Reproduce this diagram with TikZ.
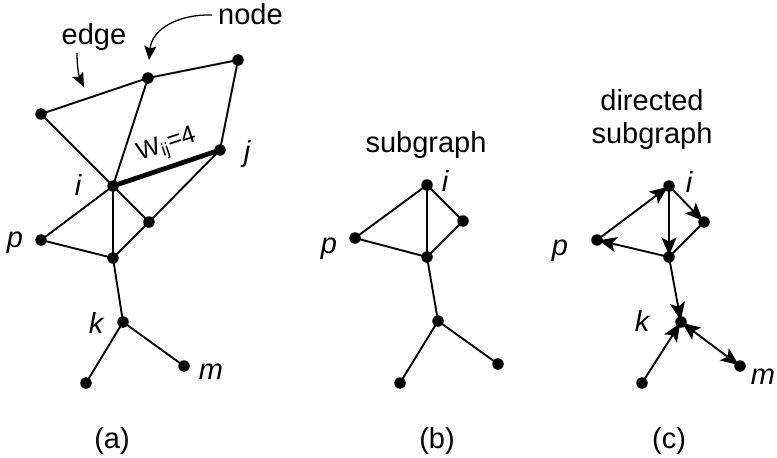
\documentclass[tikz,border=0pt]{standalone}
\usepackage{fontspec}
\setmainfont{Liberation Sans}
\usetikzlibrary{arrows.meta}
\tikzset{
  dot/.style={circle,fill=black,inner sep=0pt,minimum size=11.5pt},
  edgeline/.style={line width=1.9pt},
  thickedge/.style={line width=4.8pt},
  diredge/.style={line width=1.9pt,shorten >=1.5pt,-{Stealth[length=18pt,width=15pt,inset=4pt]}},
  bothedge/.style={line width=1.9pt,shorten >=1.5pt,shorten <=1.5pt,{Stealth[length=18pt,width=15pt,inset=4pt]}-{Stealth[length=18pt,width=15pt,inset=4pt]}},
  callout/.style={line width=1.3pt,-{Stealth[length=14pt,width=12pt,inset=2.5pt]}},
  txt/.style={font=\fontsize{29}{33}\selectfont,inner sep=0pt,anchor=base},
  lbl/.style={font=\fontsize{29}{33}\selectfont\itshape,inner sep=0pt,anchor=base},
}
\begin{document}
\begin{tikzpicture}[x=1pt,y=-1pt]
\useasboundingbox (0,0) rectangle (777,458);
% ---------- (a) ----------
\node[dot] (n1) at (148,78) {};
\node[dot] (n2) at (238,60) {};
\node[dot] (n3) at (41,114) {};
\node[dot] (aj) at (220,150) {};
\node[dot] (ai) at (113,186) {};
\node[dot] (n4) at (149,222) {};
\node[dot] (ap) at (41,240) {};
\node[dot] (n5) at (113,258) {};
\node[dot] (ak) at (123,322) {};
\node[dot] (abl) at (86,383) {};
\node[dot] (am) at (184,366) {};
\draw[edgeline] (n3.center) -- (n1.center) -- (n2.center) -- (aj.center);
\draw[edgeline] (n3.center) -- (ai.center);
\draw[edgeline] (n1.center) -- (ai.center);
\draw[edgeline] (aj.center) -- (n4.center);
\draw[edgeline] (ai.center) -- (ap.center) -- (n5.center) -- (n4.center) -- (ai.center);
\draw[edgeline] (ai.center) -- (n5.center) -- (ak.center) -- (abl.center);
\draw[edgeline] (ak.center) -- (am.center);
\draw[thickedge] (ai.center) -- (aj.center);
\node[font=\fontsize{25}{28}\selectfont,rotate=18.6,inner sep=0pt] (w) at (167,146) {W\textsubscript{ij}=4};
\node[lbl] (li) at (78,195) {i};
\node[lbl] (lj) at (247,161) {j};
\node[lbl] (lp) at (15,247) {p};
\node[lbl] (lk) at (96,333) {k};
\node[lbl] (lm) at (211,379) {m};
\node[txt] (tedge) at (94,44) {edge};
\node[txt,anchor=base west] (tnode) at (218,24) {node};
\coordinate (es) at (77,53);
\coordinate (ee) at (84,87);
\coordinate (ns) at (212,15);
\coordinate (ne) at (149,60);
\draw[callout] (es) .. controls (77,70) and (80,79) .. (ee);
\draw[callout] (ns) .. controls (180,14) and (152,28) .. (ne);
\node[txt] (ca) at (112,448) {(a)};
% ---------- (b) ----------
\node[dot] (bi) at (427,185) {};
\node[dot] (br) at (463,221) {};
\node[dot] (bp) at (355,238) {};
\node[dot] (bb) at (427,257) {};
\node[dot] (bk) at (438,321) {};
\node[dot] (bbl) at (400,383) {};
\node[dot] (bm) at (498,364) {};
\draw[edgeline] (bi.center) -- (bp.center) -- (bb.center) -- (br.center) -- (bi.center) -- (bb.center) -- (bk.center) -- (bbl.center);
\draw[edgeline] (bk.center) -- (bm.center);
\node[txt] (tsub) at (426,152) {subgraph};
\node[lbl] (bli) at (445,191) {i};
\node[lbl] (blp) at (329,253) {p};
\node[txt] (cb) at (437,448) {(b)};
% ---------- (c) ----------
\node[dot] (ci) at (669,186) {};
\node[dot] (cr) at (704,222) {};
\node[dot] (cp) at (597,240) {};
\node[dot] (cbm) at (669,257) {};
\node[dot] (ck) at (681,322) {};
\node[dot] (cbl) at (642,383) {};
\node[dot] (cm) at (740,366) {};
\draw[diredge] (cp.center) -- (ci.center);
\draw[diredge] (ci.center) -- (cr.center);
\draw[diredge] (ci.center) -- (cbm.center);
\draw[diredge] (cbm.center) -- (cp.center);
\draw[edgeline] (cr.center) -- (cbm.center);
\draw[diredge] (cbm.center) -- (ck.center);
\draw[diredge] (cbl.center) -- (ck.center);
\draw[bothedge] (ck.center) -- (cm.center);
\node[txt] (tdir) at (652,110) {directed};
\node[txt] (tsub2) at (652,143) {subgraph};
\node[lbl] (cli) at (689,192) {i};
\node[lbl] (clp) at (560,255) {p};
\node[lbl] (clk) at (642,331) {k};
\node[lbl] (clm) at (763,384) {m};
\node[txt] (cc) at (669,448) {(c)};
\end{tikzpicture}
\end{document}
